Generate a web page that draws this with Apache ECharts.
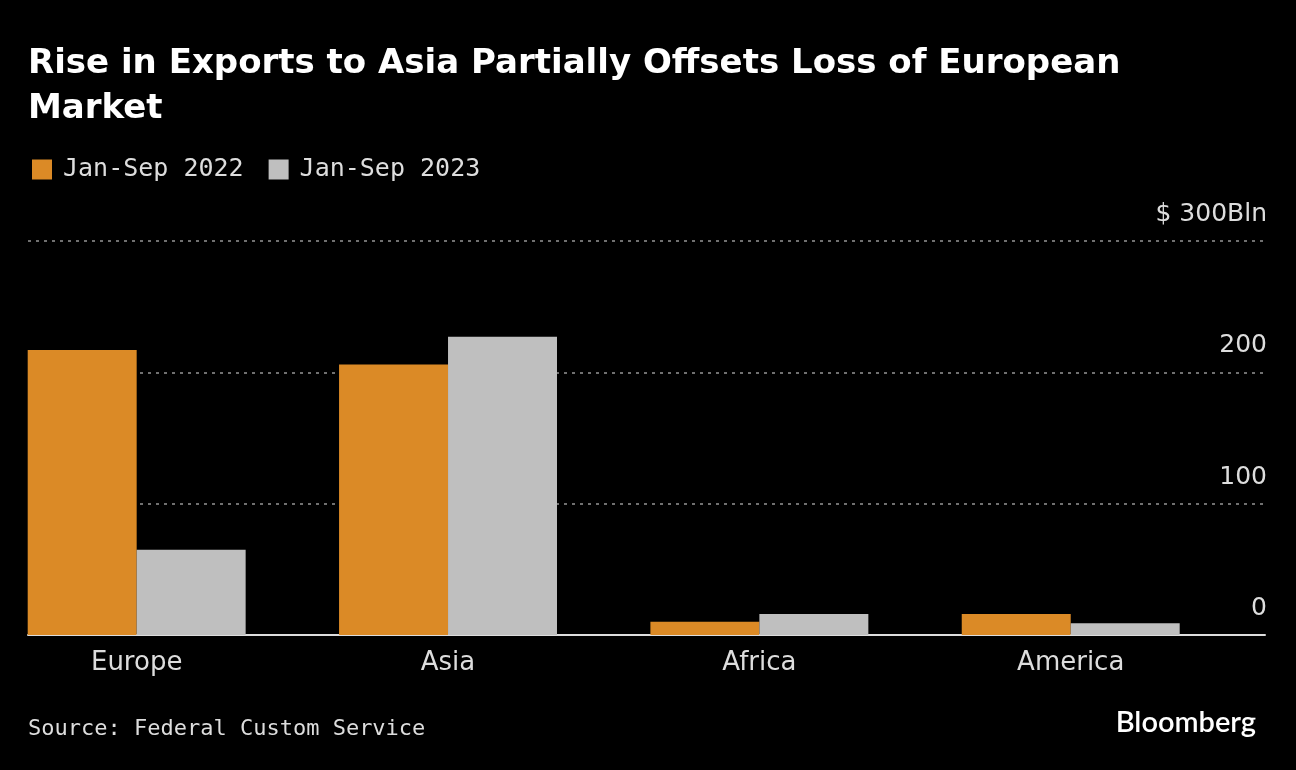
<!DOCTYPE html>
<html><head><meta charset="utf-8">
<script src="https://cdn.jsdelivr.net/npm/echarts@6/dist/echarts.min.js"></script>
<style>html,body{margin:0;padding:0;background:#000;overflow:hidden}#c{position:absolute;left:-19px;top:0;width:1315px;height:770px}</style>
</head><body><div id="c"></div>
<script>
const categories = ['Europe', 'Asia', 'Africa', 'America'];
const seriesNames = ['Jan-Sep 2022', 'Jan-Sep 2023'];
const values2022 = [217, 206, 10, 16];
const values2023 = [65, 227, 16, 9];
const yTicks = [0, 100, 200, 300];

const chart = echarts.init(document.getElementById('c'));
const sans = 'DejaVu Sans';
const mono = 'DejaVu Sans Mono';
const X = 19; // container offset
chart.setOption({
  backgroundColor: '#000',
  animation: false,
  title: {
    text: 'Rise in Exports to Asia Partially Offsets Loss of European\nMarket',
    left: 28 + X, top: 42, padding: 0,
    textStyle: { color: '#fff', fontFamily: sans, fontWeight: 'bold', fontSize: 34, lineHeight: 45 }
  },
  legend: {
    left: 32 + X, top: 157, padding: 0, itemWidth: 20, itemHeight: 20, itemGap: 25, icon: 'rect',
    data: seriesNames,
    textStyle: { color: '#ddd', fontFamily: mono, fontSize: 25, padding: [0, 0, 0, 6] }
  },
  grid: [
    { left: 0, right: 69.6, top: 241, bottom: 135 },
    { left: 28 + X, right: 31, top: 241, bottom: 135 }
  ],
  xAxis: [
    { type: 'category', data: categories, gridIndex: 0,
      axisLine: { show: false }, axisTick: { show: false },
      axisLabel: { color: '#ddd', fontFamily: sans, fontSize: 26, margin: 15 } },
    { type: 'category', data: categories, gridIndex: 1,
      axisLine: { show: true, lineStyle: { color: '#ddd', width: 2 } },
      axisTick: { show: false }, axisLabel: { show: false } }
  ],
  yAxis: [
    { type: 'value', gridIndex: 0, min: 0, max: 300, interval: 100, show: false },
    { type: 'value', gridIndex: 1, min: 0, max: 300, interval: 100, position: 'right',
      axisLine: { show: false }, axisTick: { show: false },
      splitLine: { lineStyle: { color: '#707070', type: [3, 5], width: 2 } },
      axisLabel: { inside: true, margin: -2, color: '#ddd', fontFamily: sans, fontSize: 25,
        verticalAlign: 'bottom', padding: [0, 0, 14, 0],
        formatter: v => yTicks.indexOf(v) < 0 ? '' : (v === 300 ? '$ 300Bln' : String(v)) } }
  ],
  series: [
    { name: seriesNames[0], type: 'bar', data: values2022, xAxisIndex: 0, yAxisIndex: 0,
      barGap: '0%', barCategoryGap: '30%', itemStyle: { color: '#db8a26' }, z: 3 },
    { name: seriesNames[1], type: 'bar', data: values2023, xAxisIndex: 0, yAxisIndex: 0,
      barGap: '0%', barCategoryGap: '30%', itemStyle: { color: '#bfbfbf' }, z: 3 }
  ],
  graphic: [
    { type: 'text', left: 28 + X, top: 718,
      style: { text: 'Source: Federal Custom Service', fill: '#ddd', font: '22px "DejaVu Sans Mono"' } },
    { type: 'text', right: 40, top: 708,
      style: { text: 'Bloomberg', fill: '#fff', font: '600 29px Lato' } }
  ]
});
</script></body></html>
